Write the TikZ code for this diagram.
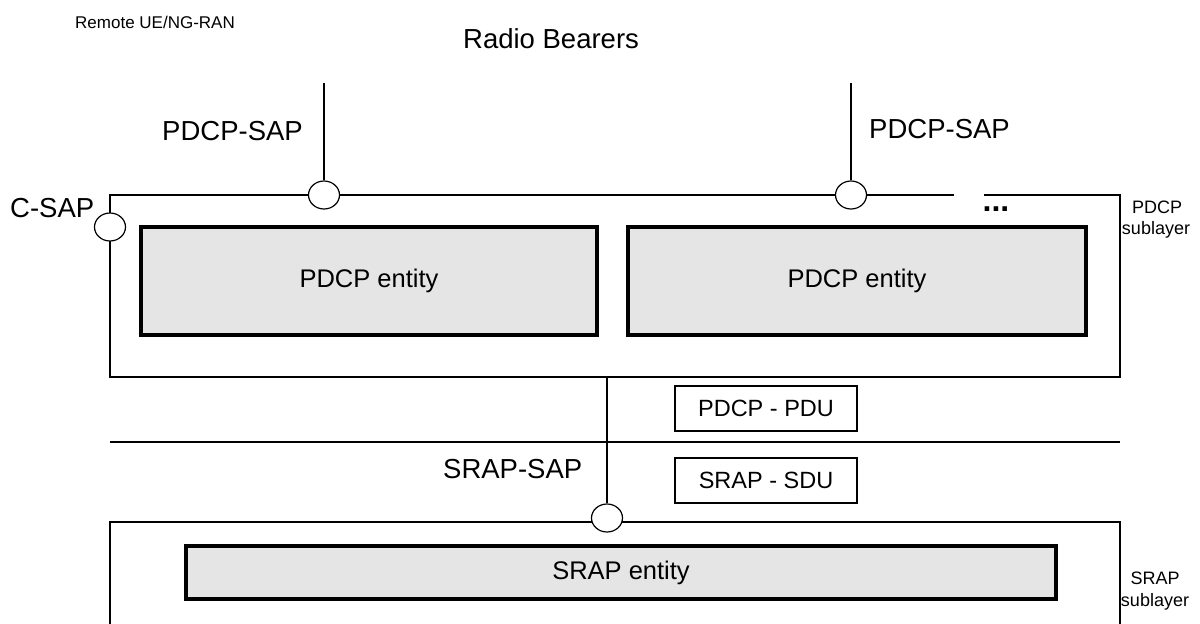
\documentclass[tikz,border=0pt]{standalone}
\usepackage{fontspec}
\setmainfont{Liberation Sans}
\usetikzlibrary{shapes.geometric}
\begin{document}
\begin{tikzpicture}[x=1pt,y=-1pt,
  frame/.style={line width=1.4pt},
  sap/.style={ellipse, draw, line width=1.2pt, fill=white, minimum width=31pt, minimum height=28pt, inner sep=0pt},
  entity/.style={draw, line width=4.5pt, fill=black!10, inner sep=0pt, font=\fontsize{25.5}{30}\selectfont},
  pdu/.style={draw, line width=1.2pt, inner sep=0pt, minimum width=182pt, minimum height=45pt, font=\fontsize{23.5}{28}\selectfont},
  lbl/.style={inner sep=0pt, anchor=base west, font=\fontsize{27.5}{32}\selectfont},
  small/.style={inner sep=0pt, anchor=base, font=\fontsize{18}{22}\selectfont},
]
\useasboundingbox (0,0) rectangle (1200,624);

% frames
\draw[frame] (954,195) -- (110,195) -- (110,377) -- (1120,377) -- (1120,195) -- (984,195);
\draw[frame] (110,640) -- (110,522) -- (1120,522) -- (1120,640);
\coordinate (hl) at (110,442);
\coordinate (hr) at (1120,442);
\draw[frame] (hl) -- (hr);

% entities
\node[entity, minimum width=456pt, minimum height=108pt] (pe1) at (369,281) {PDCP entity};
\node[entity, minimum width=458pt, minimum height=108pt] (pe2) at (857,281) {PDCP entity};
\node[entity, minimum width=870pt, minimum height=53pt] (se) at (621,572.5) {SRAP entity};

% PDU / SDU boxes
\node[pdu] (pdcppdu) at (766,408.5) {PDCP - PDU};
\node[pdu] (srapsdu) at (766,480.5) {SRAP - SDU};

% SAPs
\node[sap] (sap1) at (324,195) {};
\node[sap] (sap2) at (851,195) {};
\node[sap] (csap) at (110,227) {};
\node[sap] (ssap) at (607,518) {};

% connectors
\coordinate (t1) at (324,83);
\coordinate (t2) at (851,83);
\coordinate (pbot) at (607,377);
\draw[frame] (t1) -- (sap1.north);
\draw[frame] (t2) -- (sap2.north);
\draw[frame] (pbot) -- (ssap.north);

% labels
\node[inner sep=0pt, anchor=base west, font=\fontsize{17}{20}\selectfont] (remote) at (75,28) {Remote UE/NG-RAN};
\node[lbl] (rb) at (463,48) {Radio Bearers};
\node[lbl] (pdcpsapa) at (162,140) {PDCP-SAP};
\node[lbl] (pdcpsapb) at (869,138) {PDCP-SAP};
\node[lbl] (csapl) at (10,217) {C-SAP};
\node[lbl] (srapsapl) at (443,478) {SRAP-SAP};
\node[inner sep=0pt, anchor=base, font=\fontsize{32}{36}\selectfont\bfseries] (dots) at (996,211.5) {...};

\node[small] (pdcpsub1) at (1157,213) {PDCP};
\node[small] (pdcpsub2) at (1156,234) {sublayer};
\node[small] (srapsub1) at (1155,584) {SRAP};
\node[small] (srapsub2) at (1155,606) {sublayer};
\end{tikzpicture}
\end{document}
